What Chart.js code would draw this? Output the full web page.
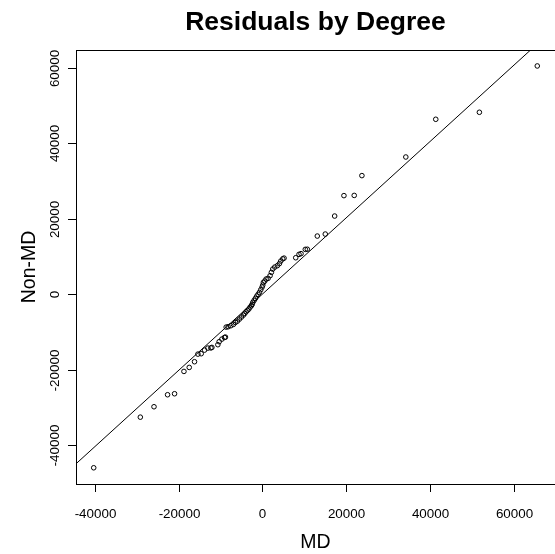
<!DOCTYPE html>
<html>
<head>
<meta charset="utf-8">
<script src="https://cdn.jsdelivr.net/npm/chart.js@4.4.1/dist/chart.umd.min.js"></script>
<style>
  html, body { margin: 0; padding: 0; background: #fff; overflow: hidden; }
  #wrap { width: 560px; height: 554px; }
</style>
</head>
<body>
<div id="wrap"><canvas id="qq" width="560" height="554"></canvas></div>
<script>
// sorted residual quantiles for each group
const mdResid = [
  -40290, -29157, -25890, -22648, -20979, -18738, -17474, -16211, -15401, -14614,
  -13827, -13017, -12301, -12063, -10633, -10323, -9679, -9059, -8820, -8650,
  -8177, -7533, -6914, -6437, -5960, -5483, -5006, -4530, -4196, -3886,
  -3576, -3242, -2932, -2622, -2456, -2289, -1979, -1669, -1335, -1025,
  -715, -381, -72, 95, 238, 572, 882, 1359, 1836, 2146,
  2479, 2956, 3576, 4053, 4387, 4863, 5173, 7963, 8749, 9226,
  10251, 10728, 13112, 15019, 17260, 19477, 21933, 23769, 34258, 41410,
  51828, 65655
];
const nonMdResid = [
  -45907, -32503, -29748, -26569, -26304, -20397, -19338, -17828, -15815, -15709,
  -14755, -14219, -14180, -14040, -13324, -12530, -11841, -11400, -11311, -8662,
  -8560, -8291, -7947, -7417, -7073, -6543, -6013, -5483, -5033, -4583,
  -4238, -3894, -3364, -2993, -2649, -2119, -1589, -1060, -450, 0,
  530, 1245, 1934, 2464, 3179, 3523, 4053, 4238, 4954, 5828,
  6702, 7232, 7603, 8132, 8821, 9400, 9600, 9700, 10596, 10781,
  11920, 11950, 15443, 15973, 20741, 26145, 26200, 31444, 36371, 46358,
  48212, 60477
];

// reference line through the quartiles
const lineSlope = 1.009;
const lineIntercept = 70;
const lineEnds = [-50000, 80000];

const xTicks = [-40000, -20000, 0, 20000, 40000, 60000];
const yTicks = [-40000, -20000, 0, 20000, 40000, 60000];
const xRange = [-44520, 69890];
const yRange = [-50200, 64700];

const titleText = 'Residuals by Degree';
const xLabel = 'MD';
const yLabel = 'Non-MD';

const points = mdResid.map((v, i) => ({ x: v, y: nonMdResid[i] }));
const linePts = lineEnds.map(v => ({ x: v, y: lineSlope * v + lineIntercept }));

const FONT = '"Liberation Sans", Arial, Helvetica, sans-serif';

// R style frame, ticks and labels
const baseAxes = {
  id: 'baseAxes',
  afterDraw(chart) {
    const ctx = chart.ctx;
    const a = chart.chartArea;
    const xs = chart.scales.x;
    const ys = chart.scales.y;
    ctx.save();
    ctx.strokeStyle = '#000';
    ctx.lineWidth = 1;
    ctx.strokeRect(Math.round(a.left) + 0.5, Math.round(a.top) + 0.5,
      Math.round(a.right - a.left), Math.round(a.bottom - a.top));

    ctx.fillStyle = '#000';
    ctx.font = '13.4px ' + FONT;
    // x ticks
    ctx.textAlign = 'center';
    ctx.textBaseline = 'middle';
    xTicks.forEach(t => {
      const px = Math.round(xs.getPixelForValue(t)) + 0.5;
      ctx.beginPath();
      ctx.moveTo(px, a.bottom);
      ctx.lineTo(px, a.bottom + 8);
      ctx.stroke();
      ctx.fillText(String(t), px, a.bottom + 30);
    });
    // y ticks, labels drawn parallel to the axis
    yTicks.forEach(t => {
      const py = Math.round(ys.getPixelForValue(t)) + 0.5;
      ctx.beginPath();
      ctx.moveTo(a.left, py);
      ctx.lineTo(a.left - 8, py);
      ctx.stroke();
      ctx.save();
      ctx.translate(a.left - 21, py);
      ctx.rotate(-Math.PI / 2);
      ctx.fillText(String(t), 0, 0);
      ctx.restore();
    });

    const cx = (a.left + a.right) / 2;
    const cy = (a.top + a.bottom) / 2;
    ctx.font = '19.5px ' + FONT;
    ctx.fillText(xLabel, cx, a.bottom + 59);
    ctx.save();
    ctx.translate(30, cy);
    ctx.rotate(-Math.PI / 2);
    ctx.fillText(yLabel, 0, 0);
    ctx.restore();

    ctx.font = 'bold 26.5px ' + FONT;
    ctx.fillText(titleText, cx, 23);
    ctx.restore();
  }
};

new Chart(document.getElementById('qq'), {
  type: 'scatter',
  data: {
    datasets: [
      {
        data: points,
        showLine: false,
        pointStyle: 'circle',
        pointRadius: 2.3,
        pointBorderWidth: 1,
        pointBorderColor: '#000',
        pointBackgroundColor: 'rgba(0,0,0,0)'
      },
      {
        type: 'line',
        data: linePts,
        borderColor: '#000',
        borderWidth: 1,
        pointRadius: 0,
        fill: false
      }
    ]
  },
  options: {
    responsive: false,
    animation: false,
    events: [],
    layout: { padding: { left: 76, top: 50, right: 4, bottom: 70 } },
    plugins: { legend: { display: false }, tooltip: { enabled: false } },
    scales: {
      x: { type: 'linear', display: false, min: xRange[0], max: xRange[1] },
      y: { type: 'linear', display: false, min: yRange[0], max: yRange[1] }
    }
  },
  plugins: [baseAxes]
});
</script>
</body>
</html>
